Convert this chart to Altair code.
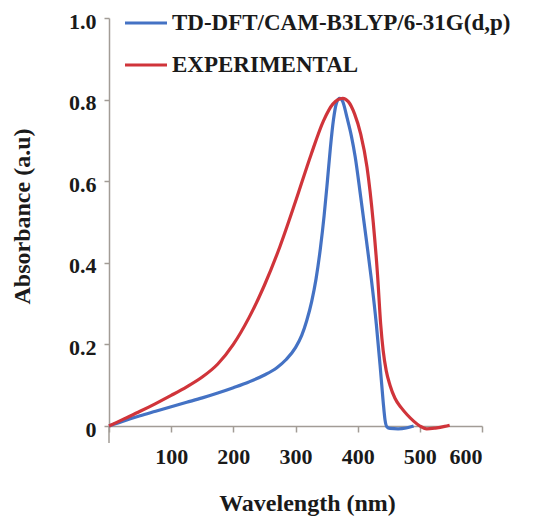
import altair as alt
import pandas as pd

series_names = ["TD-DFT/CAM-B3LYP/6-31G(d,p)", "EXPERIMENTAL"]
series_colors = ["#4472c4", "#d0343a"]

# TD-DFT curve (wavelength nm, absorbance)
dft_wl = [0, 25, 50, 75, 100, 125, 150, 175, 200, 225, 250, 270, 285, 300, 310, 318, 326,
          333, 340, 346, 351, 356, 361, 366, 371, 376, 383, 390, 396, 405, 414, 422, 430,
          436, 441, 444, 447, 452, 465, 478, 490]
dft_abs = [0.0, 0.013, 0.025, 0.036, 0.047, 0.058, 0.069, 0.081, 0.094, 0.108, 0.125, 0.143,
           0.163, 0.192, 0.222, 0.258, 0.305, 0.36, 0.435, 0.515, 0.595, 0.68, 0.75, 0.792,
           0.803, 0.795, 0.755, 0.71, 0.66, 0.56, 0.456, 0.36, 0.25, 0.15, 0.06, 0.015,
           -0.002, -0.006, -0.007, -0.005, 0.0]

# Experimental curve
exp_wl = [0, 25, 50, 75, 100, 125, 150, 175, 200, 225, 250, 275, 300, 325, 345, 360, 376,
          385, 395, 405, 415, 425, 432, 437, 441, 446, 452, 460, 470, 480, 490, 500, 511,
          525, 540, 548]
exp_abs = [0.0, 0.018, 0.036, 0.055, 0.075, 0.096, 0.12, 0.152, 0.2, 0.265, 0.345, 0.44,
           0.55, 0.665, 0.748, 0.789, 0.803, 0.795, 0.765, 0.715, 0.635, 0.5, 0.37, 0.25,
           0.185, 0.135, 0.1, 0.068, 0.045, 0.027, 0.012, 0.0, -0.007, -0.005, -0.001,
           0.002]

x_ticks = [0, 100, 200, 300, 400, 500, 600]
y_ticks = [0, 0.2, 0.4, 0.6, 0.8, 1.0]

rows = []
for w, a in zip(dft_wl, dft_abs):
    rows.append({"wl": w, "abs": a, "series": series_names[0], "order": 0})
for w, a in zip(exp_wl, exp_abs):
    rows.append({"wl": w, "abs": a, "series": series_names[1], "order": 1})
df = pd.DataFrame(rows)

FONT = "Liberation Serif"
AXIS_COLOR = "#a29c96"
TEXT_COLOR = "#1a1a1a"

lines = alt.Chart(df).mark_line(strokeWidth=3.2, interpolate="monotone", clip=False).encode(
    x=alt.X("wl:Q",
            scale=alt.Scale(domain=[0, 600], nice=False, zero=False),
            axis=alt.Axis(values=x_ticks, title="Wavelength (nm)",
                          labelExpr="datum.value == 0 ? '' : datum.label",
                          format="d",
                          tickSize=6, labelPadding=14,
                          titleX=198, titleY=77, titleBaseline="middle")),
    y=alt.Y("abs:Q",
            scale=alt.Scale(domain=[0, 1], nice=False, zero=False),
            axis=alt.Axis(values=y_ticks, title="Absorbance (a.u)",
                          labelExpr="datum.value == 0 ? '0' : format(datum.value, '.1f')",
                          tickSize=5, labelPadding=8, labelOffset=3,
                          titleX=-87, titleY=198, titleBaseline="middle")),
    color=alt.Color("series:N",
                    scale=alt.Scale(domain=series_names, range=series_colors),
                    legend=alt.Legend(title=None, orient="none", legendX=14, legendY=-18,
                                      symbolType="stroke", symbolSize=1764,
                                      symbolStrokeWidth=3.2, labelOffset=3,
                                      labelExpr="datum.label == 'EXPERIMENTAL' ? '\u00a0\u00a0EXPERIMENTAL' : datum.label",
                                      labelFont=FONT, labelFontSize=23, labelFontWeight="bold",
                                      labelColor=TEXT_COLOR, labelLimit=0, rowPadding=7)),
    detail="series:N",
    order="order:Q",
)

ext = alt.Chart(pd.DataFrame({"series": series_names[:1]})).mark_rule(
    color=AXIS_COLOR, strokeWidth=1.5
).encode(x=alt.value(0), y=alt.value(408), y2=alt.value(425))

chart = alt.layer(ext, lines).properties(
    width=373, height=408,
    autosize=alt.AutoSizeParams(type="none"),
    padding={"left": 109, "top": 18, "right": 63, "bottom": 90},
).configure_view(stroke=None).configure_axis(
    grid=False, domainColor=AXIS_COLOR, domainWidth=1.5, tickColor=AXIS_COLOR, tickWidth=1.5,
    labelFont=FONT, labelFontSize=22, labelFontWeight="bold", labelColor=TEXT_COLOR,
    titleFont=FONT, titleFontSize=24, titleFontWeight="bold", titleColor=TEXT_COLOR,
)

chart.save("out.html", embed_options={"renderer": "svg", "actions": False})
